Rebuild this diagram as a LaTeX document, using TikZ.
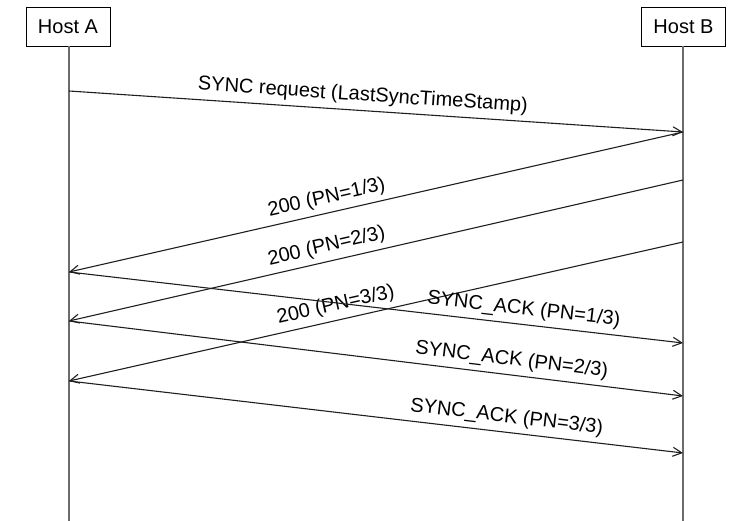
\documentclass[tikz,border=0pt]{standalone}
\usepackage{fontspec}
\setmainfont{Liberation Sans}
\usetikzlibrary{arrows.meta}
\begin{document}
\begin{tikzpicture}[x=1pt,y=-1pt,
  host/.style={draw=black,line width=0.9pt,minimum width=84pt,minimum height=39pt,inner sep=0pt,font=\fontsize{20}{24}\selectfont},
  life/.style={draw=black!58,line width=1.5pt},
  msg/.style={draw=black!88,line width=1.1pt,arrows={-Straight Barb[length=9pt,width=9pt,line width=1.1pt]}},
  msgback/.style={draw=black!88,line width=1.1pt,arrows={Straight Barb[length=9pt,width=9pt,line width=1.1pt]-}},
  lbl/.style={sloped,above=2pt,inner sep=3pt,font=\fontsize{20}{24}\selectfont}]
\useasboundingbox (0,0) rectangle (748,521);
\node[host] (hA) at (68,26.5) {Host A};
\node[host] (hB) at (683.5,26.5) {Host B};
\coordinate (endA) at (69,521);
\coordinate (endB) at (683,521);
\draw[life] (hA.south -| endA) -- (endA);
\draw[life] (hB.south -| endB) -- (endB);
% points on lifelines
\coordinate (a1) at (69,91);
\coordinate (a2) at (69,272);
\coordinate (a3) at (69,321);
\coordinate (a4) at (69,381);
\coordinate (b1) at (683,132);
\coordinate (b2) at (683,180);
\coordinate (b3) at (683,242);
\coordinate (b4) at (683,343);
\coordinate (b5) at (683,396);
\coordinate (b6) at (683,453);
% messages
\draw[msg] (a1) -- node[lbl,pos=0.477] {SYNC request (LastSyncTimeStamp)} (b1);
\draw[msgback] (a2) -- node[lbl,pos=0.425] {200 (PN=1/3)} (b1);
\draw[msgback] (a3) -- node[lbl,pos=0.425] {200 (PN=2/3)} (b2);
\draw[msgback] (a4) -- node[lbl,pos=0.44] {200 (PN=3/3)} (b3);
\draw[msg] (a2) -- node[lbl,pos=0.738] {SYNC\_ACK (PN=1/3)} (b4);
\draw[msg] (a3) -- node[lbl,pos=0.718] {SYNC\_ACK (PN=2/3)} (b5);
\draw[msg] (a4) -- node[lbl,pos=0.71] {SYNC\_ACK (PN=3/3)} (b6);
\end{tikzpicture}
\end{document}
